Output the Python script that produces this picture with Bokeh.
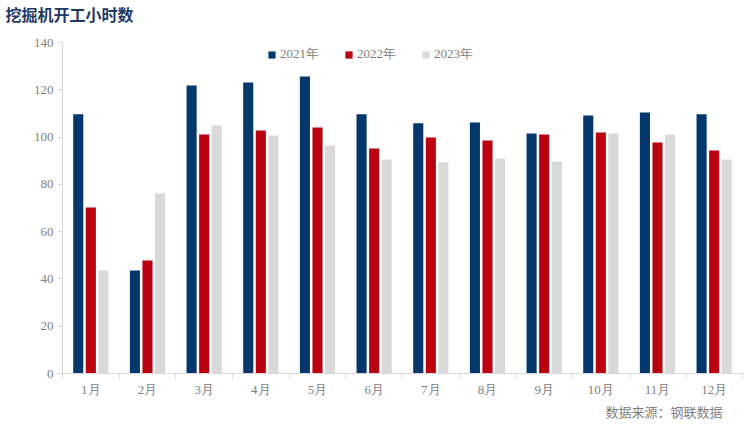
from bokeh.plotting import figure
from bokeh.models import ColumnDataSource, FixedTicker, Legend, LegendItem, Range1d, Title
from bokeh.transform import dodge
from bokeh.embed import file_html
from bokeh.resources import INLINE

months = ["1月", "2月", "3月", "4月", "5月", "6月", "7月", "8月", "9月", "10月", "11月", "12月"]
y2021 = [109.6, 43.6, 121.8, 123.1, 125.6, 109.6, 105.8, 106.2, 101.5, 109.1, 110.4, 109.6]
y2022 = [70.2, 47.8, 101.1, 102.8, 104.1, 95.2, 99.8, 98.6, 101.1, 101.9, 97.7, 94.3]
y2023 = [43.6, 76.1, 104.9, 100.7, 96.4, 90.5, 89.3, 90.9, 89.7, 101.5, 101.1, 90.5]
series_names = ["2021年", "2022年", "2023年"]
colors = ["#04376b", "#bb0010", "#d9d9d9"]
yticks = [0, 20, 40, 60, 80, 100, 120, 140]
title_text = "挖掘机开工小时数"
source_text = "数据来源：钢联数据"

pos = [i + 0.5 for i in range(len(months))]
src = ColumnDataSource(dict(x=pos, s2021=y2021, s2022=y2022, s2023=y2023))

p = figure(width=745, height=424, x_range=Range1d(0, len(months)), y_range=Range1d(0, 140),
           output_backend="svg", toolbar_location=None,
           min_border_left=62, min_border_right=3, min_border_top=42, min_border_bottom=51)
p.xgrid.visible = False
p.ygrid.visible = False
p.outline_line_color = None
p.background_fill_color = "white"

axis_col = "#d9d9d9"
lab_col = "#7f7f7f"

xa = p.xaxis[0]
xa.ticker = FixedTicker(ticks=pos, minor_ticks=list(range(len(months) + 1)))
xa.major_label_overrides = {pp: m for pp, m in zip(pos, months)}
xa.major_tick_line_color = None
xa.minor_tick_line_color = axis_col
xa.minor_tick_out = 5
xa.minor_tick_in = 0
xa.axis_line_color = axis_col
xa.major_label_text_font = "Liberation Serif"
xa.major_label_text_font_size = "13px"
xa.major_label_text_color = lab_col
xa.major_label_standoff = 2

ya = p.yaxis[0]
ya.ticker = FixedTicker(ticks=yticks)
ya.major_tick_out = 5
ya.major_tick_in = 0
ya.major_tick_line_color = axis_col
ya.minor_tick_line_color = None
ya.axis_line_color = axis_col
ya.major_label_text_font = "Liberation Serif"
ya.major_label_text_font_size = "13px"
ya.major_label_text_color = lab_col
ya.major_label_standoff = 4

offsets = [-0.222, 0.0, 0.222]
fields = ["s2021", "s2022", "s2023"]
renderers = []
for f, off, c in zip(fields, offsets, colors):
    r = p.vbar(x=dodge("x", off), top=f, width=0.178, bottom=0, source=src,
               fill_color=c, line_color=None)
    renderers.append(r)

legend = Legend(items=[LegendItem(label=n, renderers=[r]) for n, r in zip(series_names, renderers)],
                orientation="horizontal", location=(205, 310),
                glyph_width=9, glyph_height=9, label_height=13, label_width=30,
                spacing=25, label_standoff=4, padding=0, margin=0,
                border_line_color=None, background_fill_alpha=0,
                label_text_font="Liberation Serif", label_text_font_size="13px",
                label_text_color=lab_col)
p.add_layout(legend, "center")

# blank spacer between the frame and the chart title
p.add_layout(Title(text=" ", standoff=0, text_font="Noto Sans CJK SC", text_font_size="9px"), "above")
p.title = Title(text=title_text, align="left", offset=-57, standoff=0, vertical_align="top",
                text_font="Noto Sans CJK SC", text_font_size="16px", text_font_style="bold",
                text_color="#1f3864")
p.add_layout(Title(text=source_text, align="right", offset=20, standoff=1,
                   text_font="Noto Sans CJK SC", text_font_size="13px", text_font_style="normal",
                   text_color=lab_col), "below")

open("out.html", "w").write(file_html(p, INLINE))
